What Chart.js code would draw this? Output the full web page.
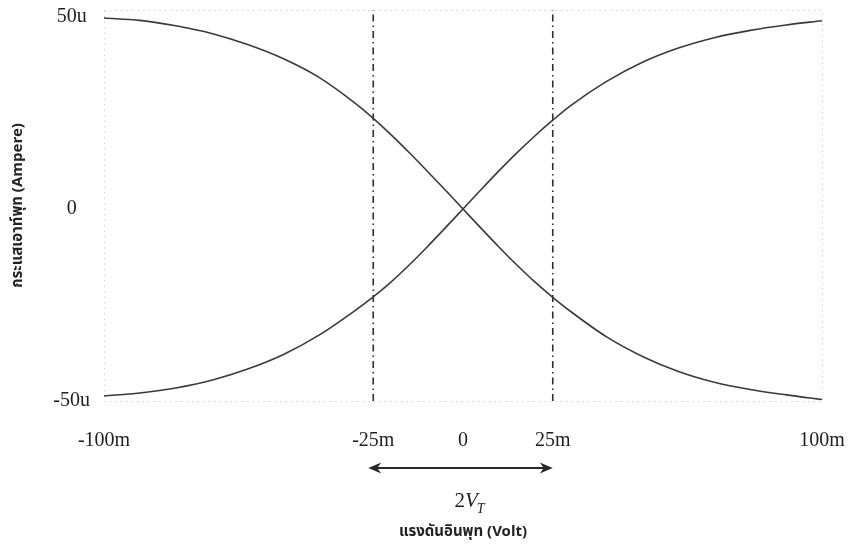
<!DOCTYPE html>
<html>
<head>
<meta charset="utf-8">
<script src="https://cdn.jsdelivr.net/npm/chart.js@4/dist/chart.umd.min.js"></script>
<style>
  html, body { margin: 0; padding: 0; background: #fff; }
  #wrap { width: 852px; height: 554px; position: relative; }
</style>
</head>
<body>
<div id="wrap"><canvas id="c" width="852" height="554"></canvas></div>
<script>
// Input voltage (mV)
const inputMilliVolt = [-100, -90, -80, -70, -60, -50, -40, -30, -25, -20, -15, -10, -5, 0,
                        5, 10, 15, 20, 25, 30, 40, 50, 60, 70, 80, 90, 100];
// Output current of the falling branch (uA)
const currentFalling = [49.7, 49.1, 47.7, 45.7, 42.8, 39.1, 34.2, 27.5, 23.6, 19.3, 14.7, 9.9, 5.0, 0,
                        -5.0, -9.9, -14.6, -19.0, -23.0, -26.7, -33.3, -38.4, -42.3, -45.1, -47.0, -48.4, -49.6];
// Output current of the rising branch (uA)
const currentRising = [-48.7, -47.9, -46.6, -44.6, -41.7, -37.9, -32.8, -26.4, -22.9, -19.0, -14.6, -9.9, -5.0, 0,
                       5.0, 9.9, 14.6, 19.0, 23.1, 26.9, 33.2, 38.2, 41.9, 44.6, 46.5, 47.9, 49.0];
// Thermal-voltage markers (mV)
const markerVolts = [-25, 25];

// Axis ticks
const xTickValues = [-100, -25, 0, 25, 100];
const xTickLabels = ['-100m', '-25m', '0', '25m', '100m'];
const yTickValues = [-50, 0, 50];
const yTickLabels = ['-50u', '0', '50u'];
const yMin = -50, yMax = 51.8;

const ink = '#3a3a3a';
const serif = "'Liberation Serif', 'Times New Roman', serif";
const thai = "'Noto Sans Thai', 'Loma', 'Garuda', 'Norasi', 'Tlwg Typo', 'Liberation Serif', serif";

const toPoints = (ys) => inputMilliVolt.map((x, i) => ({ x, y: ys[i] }));

const markerSets = markerVolts.map(v => ({
  data: [{ x: v, y: yMin }, { x: v, y: yMax }],
  borderColor: '#2e2e2e',
  borderWidth: 1.6,
  borderDash: [7, 4, 1.5, 4],
  pointRadius: 0,
  fill: false
}));

const curveStyle = {
  borderColor: ink,
  borderWidth: 1.6,
  pointRadius: 0,
  fill: false,
  cubicInterpolationMode: 'monotone'
};

// Dotted frame, 2V_T span arrow and its label
const annotate = {
  id: 'annotate',
  beforeDatasetsDraw(chart) {
    const { ctx, chartArea: a } = chart;
    ctx.save();
    ctx.strokeStyle = '#d4d4d4';
    ctx.lineWidth = 1;
    ctx.setLineDash([1.5, 4]);
    ctx.strokeRect(a.left + 0.5, a.top + 0.5, a.right - a.left, a.bottom - a.top);
    ctx.restore();
  },
  afterDraw(chart) {
    const { ctx, chartArea: a, scales: { x } } = chart;
    const x1 = x.getPixelForValue(markerVolts[0]) - 5;
    const x2 = x.getPixelForValue(markerVolts[1]);
    const y = a.bottom + 67;
    ctx.save();
    ctx.strokeStyle = '#2a2a2a';
    ctx.fillStyle = '#2a2a2a';
    ctx.lineWidth = 2;
    ctx.beginPath();
    ctx.moveTo(x1 + 6, y);
    ctx.lineTo(x2 - 6, y);
    ctx.stroke();
    // heads
    ctx.beginPath();
    ctx.moveTo(x1, y); ctx.lineTo(x1 + 13, y - 5.5); ctx.lineTo(x1 + 9, y); ctx.lineTo(x1 + 13, y + 5.5); ctx.closePath();
    ctx.fill();
    ctx.beginPath();
    ctx.moveTo(x2, y); ctx.lineTo(x2 - 13, y - 5.5); ctx.lineTo(x2 - 9, y); ctx.lineTo(x2 - 13, y + 5.5); ctx.closePath();
    ctx.fill();

    // 2V_T
    ctx.fillStyle = '#222';
    ctx.textBaseline = 'alphabetic';
    const base = a.bottom + 106;
    const fTwo = '21px ' + serif;
    const fV = 'italic 21px ' + serif;
    const fT = 'italic 14px ' + serif;
    ctx.font = fTwo; const w2 = ctx.measureText('2').width;
    ctx.font = fV; const wV = ctx.measureText('V').width;
    ctx.font = fT; const wT = ctx.measureText('T').width;
    const total = w2 + wV + wT - 1;
    let cx = (x1 + x2) / 2 + 9 - total / 2;
    ctx.textAlign = 'left';
    ctx.font = fTwo; ctx.fillText('2', cx, base); cx += w2;
    ctx.font = fV; ctx.fillText('V', cx, base); cx += wV - 1;
    ctx.font = fT; ctx.fillText('T', cx, base + 6);
    ctx.restore();
  }
};

new Chart(document.getElementById('c'), {
  type: 'line',
  data: {
    datasets: [
      { ...curveStyle, data: toPoints(currentFalling) },
      { ...curveStyle, data: toPoints(currentRising) },
      ...markerSets
    ]
  },
  options: {
    responsive: false,
    animation: false,
    events: [],
    layout: { padding: { top: 10, right: 30, bottom: 0, left: 0 } },
    plugins: { legend: { display: false }, tooltip: { enabled: false } },
    scales: {
      x: {
        type: 'linear',
        min: -100,
        max: 100,
        grid: { display: false, drawTicks: false },
        border: { display: false },
        afterBuildTicks: (s) => { s.ticks = xTickValues.map(v => ({ value: v })); },
        afterFit: (s) => { s.height = 153; s.paddingLeft = 0; s.paddingRight = 0; },
        ticks: {
          autoSkip: false,
          maxRotation: 0,
          padding: 28,
          color: '#1e1e1e',
          font: { family: serif, size: 20 },
          callback: (v) => xTickLabels[xTickValues.indexOf(v)]
        },
        title: {
          display: true,
          text: 'แรงดันอินพุท (Volt)',
          color: '#222',
          font: { family: thai, size: 15, weight: 'bold' },
          padding: { top: 0, bottom: 12 }
        }
      },
      y: {
        type: 'linear',
        min: yMin,
        max: yMax,
        grid: { display: false, drawTicks: false },
        border: { display: false },
        afterBuildTicks: (s) => { s.ticks = yTickValues.map(v => ({ value: v })); },
        afterFit: (s) => { s.width = 104; s.paddingTop = 0; s.paddingBottom = 0; },
        ticks: {
          crossAlign: 'center',
          padding: 14,
          color: '#1e1e1e',
          font: { family: serif, size: 20 },
          callback: (v) => yTickLabels[yTickValues.indexOf(v)]
        },
        title: {
          display: true,
          text: 'กระแสเอาท์พุท (Ampere)',
          color: '#222',
          font: { family: thai, size: 15, weight: 'bold' },
          padding: { top: 10, bottom: 0 }
        }
      }
    }
  },
  plugins: [annotate]
});
</script>
</body>
</html>
